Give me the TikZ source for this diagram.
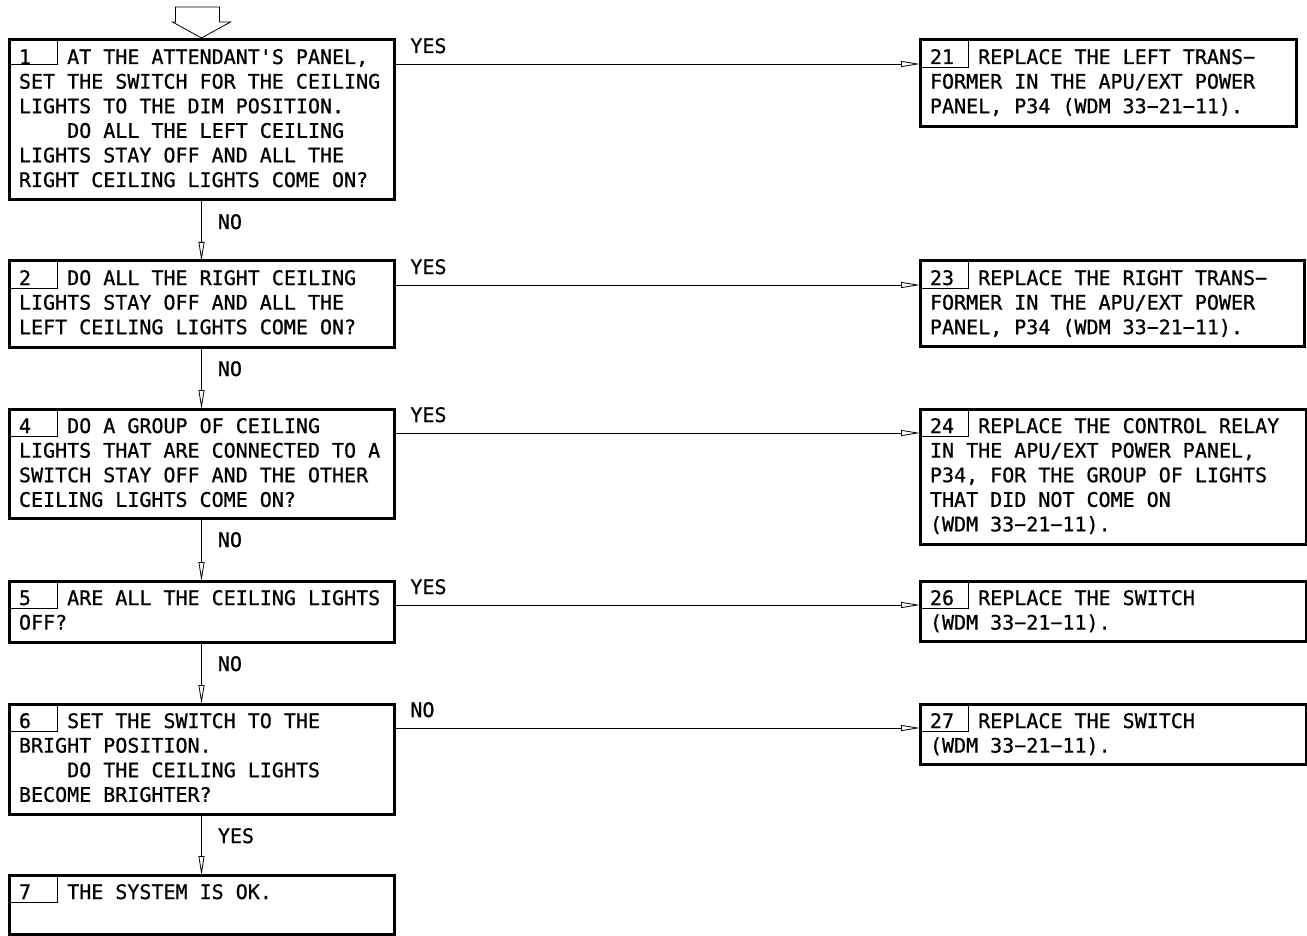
\documentclass[tikz,border=0pt]{standalone}
\usepackage{fontspec}
\setmonofont[FakeBold=0.8]{DejaVu Sans Mono}
\usetikzlibrary{arrows.meta}
\newcommand{\indt}{\hspace*{48.2pt}}
\frenchspacing

\begin{document}
\begin{tikzpicture}[x=1pt, y=1pt,
    every node/.style={font=\ttfamily\fontsize{20pt}{24.6pt}\selectfont},
    stepbox/.style={draw, line width=3pt, outer sep=0pt, anchor=north west,
      inner xsep=10pt, inner ysep=0pt, align=left, text height=24pt,
      execute at begin node={\spaceskip=\fontdimen2\font\xspaceskip=\fontdimen2\font}},
    numbox/.style={draw, line width=0.8pt, outer sep=0pt, anchor=north west,
      inner xsep=10pt, inner ysep=0pt, text width=28pt, align=left,
      text height=24pt, text depth=3pt},
    conn/.style={line width=0.8pt, -{Triangle[open, length=19pt, width=6pt]}},
    hlbl/.style={at start, anchor=base west, inner sep=0pt, xshift=16pt, yshift=11pt},
    vlbl/.style={at start, anchor=base west, inner sep=0pt, xshift=16pt, yshift=-29pt}]
  \useasboundingbox (0,0) rectangle (1307,-936);
  % questions
  \node[stepbox, text width=365pt, text depth=136pt] (s1) at (9,-40)
    {\indt AT THE ATTENDANT'S PANEL,\\SET THE SWITCH FOR THE CEILING\\LIGHTS TO THE DIM POSITION.\\
     \indt DO ALL THE LEFT CEILING\\LIGHTS STAY OFF AND ALL THE\\RIGHT CEILING LIGHTS COME ON?};
  \node[stepbox, text width=365pt, text depth=62pt] (s2) at (9,-261)
    {\indt DO ALL THE RIGHT CEILING\\LIGHTS STAY OFF AND ALL THE\\LEFT CEILING LIGHTS COME ON?};
  \node[stepbox, text width=365pt, text depth=85pt] (s4) at (9,-409)
    {\indt DO A GROUP OF CEILING\\LIGHTS THAT ARE CONNECTED TO A\\SWITCH STAY OFF AND THE OTHER\\CEILING LIGHTS COME ON?};
  \node[stepbox, text width=365pt, text depth=37pt] (s5) at (9,-581)
    {\indt ARE ALL THE CEILING LIGHTS\\OFF?};
  \node[stepbox, text width=365pt, text depth=86pt] (s6) at (9,-704)
    {\indt SET THE SWITCH TO THE\\BRIGHT POSITION.\\\indt DO THE CEILING LIGHTS\\BECOME BRIGHTER?};
  \node[stepbox, text width=365pt, text depth=35pt] (s7) at (9,-875)
    {\indt THE SYSTEM IS OK.};
  % actions
  \node[stepbox, text width=356pt, text depth=63pt] (s21) at (920,-40)
    {\indt REPLACE THE LEFT TRANS−\\FORMER IN THE APU/EXT POWER\\PANEL, P34 (WDM 33−21−11).};
  \node[stepbox, text width=364pt, text depth=61pt] (s23) at (920,-261)
    {\indt REPLACE THE RIGHT TRANS−\\FORMER IN THE APU/EXT POWER\\PANEL, P34 (WDM 33−21−11).};
  \node[stepbox, text width=366pt, text depth=111pt] (s24) at (920,-409)
    {\indt REPLACE THE CONTROL RELAY\\IN THE APU/EXT POWER PANEL,\\P34, FOR THE GROUP OF LIGHTS\\THAT DID NOT COME ON\\(WDM 33−21−11).};
  \node[stepbox, text width=366pt, text depth=36pt] (s26) at (920,-581)
    {\indt REPLACE THE SWITCH\\(WDM 33−21−11).};
  \node[stepbox, text width=366pt, text depth=36pt] (s27) at (920,-704)
    {\indt REPLACE THE SWITCH\\(WDM 33−21−11).};
  % step numbers
  \node[numbox, text depth=0pt] (n1) at (s1.north west) {1};
  \node[numbox] (n2) at (s2.north west) {2};
  \node[numbox] (n4) at (s4.north west) {4};
  \node[numbox] (n5) at (s5.north west) {5};
  \node[numbox] (n6) at (s6.north west) {6};
  \node[numbox] (n7) at (s7.north west) {7};
  \node[numbox] (n21) at (s21.north west) {21};
  \node[numbox] (n23) at (s23.north west) {23};
  \node[numbox] (n24) at (s24.north west) {24};
  \node[numbox] (n26) at (s26.north west) {26};
  \node[numbox] (n27) at (s27.north west) {27};
  % entry arrow
  \draw[line width=0.8pt, shift={(s1.north)}]
    (-26,33) -- (18,33) -- (18,18) -- (29,18) -- (0,2) -- (-29,18) -- (-26,18) -- cycle;
  % connectors
  \draw[conn] (s1.south) -- node[vlbl] {NO} (s2.north);
  \draw[conn] (s2.south) -- node[vlbl] {NO} (s4.north);
  \draw[conn] (s4.south) -- node[vlbl] {NO} (s5.north);
  \draw[conn] (s5.south) -- node[vlbl] {NO} (s6.north);
  \draw[conn] (s6.south) -- node[vlbl] {YES} (s7.north);
  \draw[conn] (s1.base east) -- node[hlbl] {YES} (s21.base west);
  \draw[conn] (s2.base east) -- node[hlbl] {YES} (s23.base west);
  \draw[conn] (s4.base east) -- node[hlbl] {YES} (s24.base west);
  \draw[conn] (s5.base east) -- node[hlbl] {YES} (s26.base west);
  \draw[conn] (s6.base east) -- node[hlbl] {NO} (s27.base west);
\end{tikzpicture}
\end{document}
